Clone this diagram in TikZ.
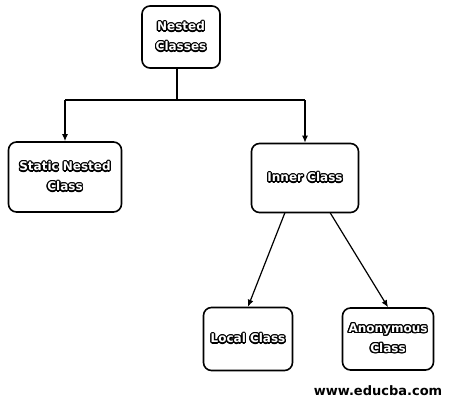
\documentclass[tikz,border=0pt]{standalone}
\usepackage{fontspec}
\setmainfont{DejaVu Sans}
\usepackage{xcolor}
\usepackage{contour}
\usetikzlibrary{arrows.meta}
\contourlength{1.2pt}
\newcommand{\ol}[1]{\contour{black}{#1}}

\tikzset{
  classbox/.style={draw=black,line width=1.6pt,rounded corners=8pt,align=center,
    text=white,font=\fontsize{12}{20}\selectfont\bfseries,inner sep=2pt},
  link/.style={black,line width=1.2pt},
  arr/.style={link,-{Latex[length=7pt,width=6pt]}}
}

\begin{document}
\begin{tikzpicture}[x=1pt,y=-1pt]
            \useasboundingbox (0,0) rectangle (458,405);
            \node[classbox,minimum width=78pt,minimum height=62pt] (nested) at (181,37) {\ol{Nested}\\\ol{Classes}};
            \node[classbox,minimum width=113pt,minimum height=70pt] (static) at (65,177) {\ol{Static Nested}\\\ol{Class}};
            \node[classbox,minimum width=107pt,minimum height=69pt] (inner) at (305,178) {\ol{Inner Class}};
            \node[classbox,minimum width=89pt,minimum height=63pt] (local) at (248,339) {\ol{Local Class}};
            \node[classbox,minimum width=91pt,minimum height=62pt] (anon) at (388,339) {\ol{Anonymous}\\\ol{Class}};
            \node[font=\fontsize{13}{15}\selectfont\bfseries] (site) at (378,391) {www.educba.com};

            \coordinate (split) at (177,100);
            \coordinate (innerL) at (285,212.5);
            \coordinate (innerR) at (330,212.5);

            \draw[link](nested.south -| split) -- (split);
            \draw[link](static.north |- split) -- (inner.north |- split);
            \draw[arr](static.north |- split) -- (static.north);
            \draw[arr](inner.north |- split) -- (inner.north);
            \draw[arr](innerL) -- (local.north);
            \draw[arr](innerR) -- (anon.north);
        \end{tikzpicture}
\end{document}
